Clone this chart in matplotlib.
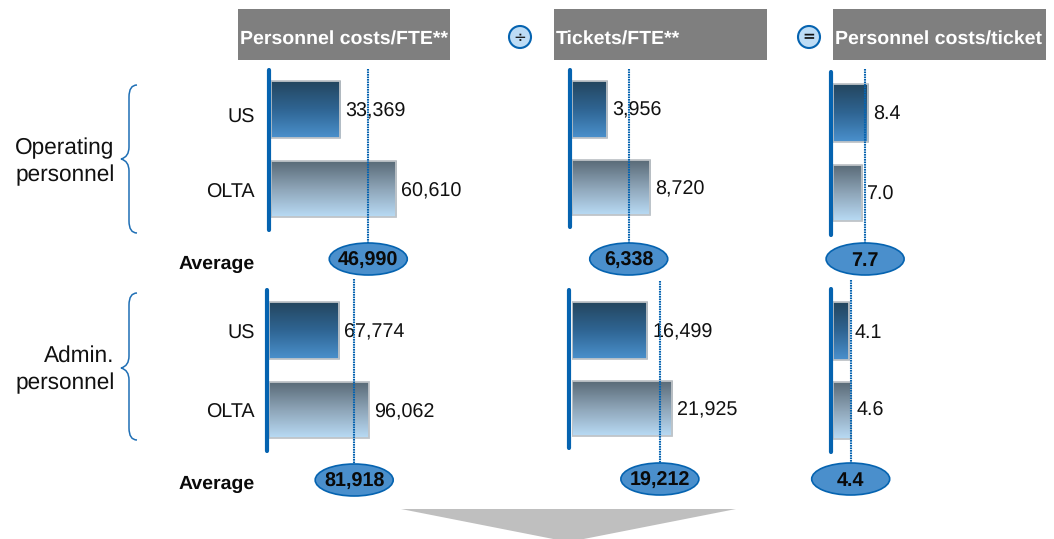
#!/usr/bin/python3

import numpy as np
import matplotlib
matplotlib.use("Agg")
import matplotlib.pyplot as plt
from matplotlib.colors import LinearSegmentedColormap
from matplotlib.patches import Circle, Ellipse, PathPatch, Polygon, Rectangle
from matplotlib.path import Path

plt.rcParams['font.family'] = ['Liberation Sans', 'DejaVu Sans']
plt.rcParams['text.hinting'] = 'no_hinting'

categories = ["US", "OLTA"]
headers = ["Personnel costs/FTE**", "Tickets/FTE**", "Personnel costs/ticket"]
groups = [["Operating", "personnel"], ["Admin.", "personnel"]]

op_costs = [33369, 60610]
op_tickets = [3956, 8720]
op_cost_per_ticket = [8.4, 7.0]
admin_costs = [67774, 96062]
admin_tickets = [16499, 21925]
admin_cost_per_ticket = [4.1, 4.6]

op_averages = [46990, 6338, 7.7]
admin_averages = [81918, 19212, 4.4]

W, H = 1054, 539
BLUE = "#0563b0"
ELLIPSE = "#4a8fcc"
LABEL_SIZE = 14.2
TEXT_DROP = 2  # va="center" sits a little high for this font
us_cmap = LinearSegmentedColormap.from_list("us", ["#24465f", "#2f6593", "#4a90cc"])
olta_cmap = LinearSegmentedColormap.from_list("olta", ["#5a6b78", "#8ea5b8", "#b8daf4"])

fig = plt.figure(figsize=(W / 100, H / 100), dpi=100)

# overlay in pixel coordinates for the decoration around the panels
over = fig.add_axes([0, 0, 1, 1], zorder=5)
over.set_xlim(0, W)
over.set_ylim(H, 0)
over.axis("off")
over.patch.set_alpha(0)


def make_brace(x_tip, y_top, y_tip, y_bot):
    sx = x_tip + 8
    ex = x_tip + 16
    verts = [(ex, y_top), (sx, y_top), (sx, y_top + 12),
             (sx, y_tip - 12),
             (sx, y_tip - 2), (x_tip, y_tip),
             (sx, y_tip + 2), (sx, y_tip + 12),
             (sx, y_bot - 12),
             (sx, y_bot), (ex, y_bot)]
    codes = [Path.MOVETO, Path.CURVE3, Path.CURVE3,
             Path.LINETO,
             Path.CURVE3, Path.CURVE3,
             Path.CURVE3, Path.CURVE3,
             Path.LINETO,
             Path.CURVE3, Path.CURVE3]
    over.add_patch(PathPatch(Path(verts, codes), fc="none", ec="#1f6fb5", lw=1.1))


def panel(x_base, px_per_unit, bars, labels_y, values, average, axis_span, line_top, oval_y, fmt):
    # one axes per panel: x runs in data units, y stays in pixels
    width = 200
    ax = fig.add_axes([x_base / W, 0, width / W, 1], zorder=2)
    ax.patch.set_alpha(0)
    ax.axis("off")

    for value, (top, bot), cmap in zip(values, bars, [us_cmap, olta_cmap]):
        grad = np.linspace(0, 1, 64).reshape(-1, 1)
        ax.imshow(grad, cmap=cmap, extent=(0, value, bot, top), aspect="auto", zorder=2)
        ax.barh((top + bot) / 2, value, height=bot - top, fc="none", ec="#bfc4c8", lw=1.3, zorder=3)
    ax.set_xlim(0, width / px_per_unit)
    ax.set_ylim(H, 0)

    for value, y in zip(values, labels_y):
        ax.annotate(fmt.format(value), (value, y + TEXT_DROP), xytext=(3.6, 0), textcoords="offset points",
                    va="center", ha="left", fontsize=LABEL_SIZE, color="#111111", zorder=4)

    # baseline drawn just left of zero
    ax.plot([-2.2 / px_per_unit] * 2, axis_span, color=BLUE, lw=3, solid_capstyle="round",
            clip_on=False, zorder=5)

    ax.plot([average, average], [line_top, oval_y - 15], color=BLUE, lw=1.5,
            linestyle=(0, (0.8, 0.4)), zorder=6)
    ax.add_patch(Ellipse((average, oval_y), 78 / px_per_unit, 32, fc=ELLIPSE, ec=BLUE,
                         lw=1.2, clip_on=False, zorder=7))
    ax.text(average, oval_y + TEXT_DROP, fmt.format(average), ha="center", va="center", fontsize=14.2,
            fontweight="bold", color="#0a0a0a", zorder=8)


# upper block
panel(271, 2.07e-3, [(81, 138), (161, 217)], [109, 189], op_costs, op_averages[0], (70, 230), 69, 259, "{:,}")
panel(572, 8.95e-3, [(81, 138), (160, 215)], [108, 187], op_tickets, op_averages[1], (70, 227), 69, 259, "{:,}")
panel(833, 4.17, [(84, 142), (165, 221)], [113, 193], op_cost_per_ticket, op_averages[2], (72, 235), 69, 259, "{:.1f}")

# lower block
panel(269, 1.04e-3, [(302, 359), (382, 438)], [330, 410], admin_costs, admin_averages[0], (290, 451), 279, 480, "{:,}")
panel(571.5, 4.6e-3, [(302, 359), (381, 436)], [330, 408], admin_tickets, admin_averages[1], (290, 448), 281, 479, "{:,}")
panel(833, 4.02, [(302, 360), (382, 439)], [331, 409], admin_cost_per_ticket, admin_averages[2], (289, 452), 280, 479, "{:.1f}")

# column headers
for (x0, x1), label in zip([(238, 450), (554, 767), (833, 1046)], headers):
    over.add_patch(Rectangle((x0, 9), x1 - x0, 51, fc="#7f7f7f", ec="none"))
    over.text(x0 + 2, 38 + TEXT_DROP, label, color="white", fontweight="bold", fontsize=14,
              ha="left", va="center")

# operators between the columns
for cx, sym, weight in [(520, "\u00f7", "normal"), (809, "=", "bold")]:
    over.add_patch(Circle((cx, 37), 11, fc="#bddcf5", ec=BLUE, lw=1.5))
    over.text(cx, 37.5, sym, ha="center", va="center", fontsize=11, fontweight=weight,
              color="#111111", family=['DejaVu Sans'])

# row labels
for y_us, y_olta, y_avg in [(116, 191, 262), (332, 411, 482)]:
    over.text(254.5, y_us + TEXT_DROP, categories[0], ha="right", va="center", fontsize=LABEL_SIZE, color="#111111")
    over.text(254.5, y_olta + TEXT_DROP, categories[1], ha="right", va="center", fontsize=LABEL_SIZE, color="#111111")
    over.text(254.5, y_avg + TEXT_DROP, "Average", ha="right", va="center", fontsize=14,
              fontweight="bold", color="#0a0a0a")

for lines, y_first in zip(groups, [146, 354]):
    for i, line in enumerate(lines):
        over.text(114.5, y_first + 27 * i + TEXT_DROP, line, ha="right", va="center", fontsize=16.3, color="#111111")

make_brace(121, 85, 159, 233)
make_brace(121, 293, 368, 440)

# grey arrow pointing down, runs off the bottom edge
over.add_patch(Polygon([(401, 509), (736, 509), (568.5, 542)], closed=True, fc="#bfbfbf", ec="none"))

fig.savefig("out.png", dpi=100)
